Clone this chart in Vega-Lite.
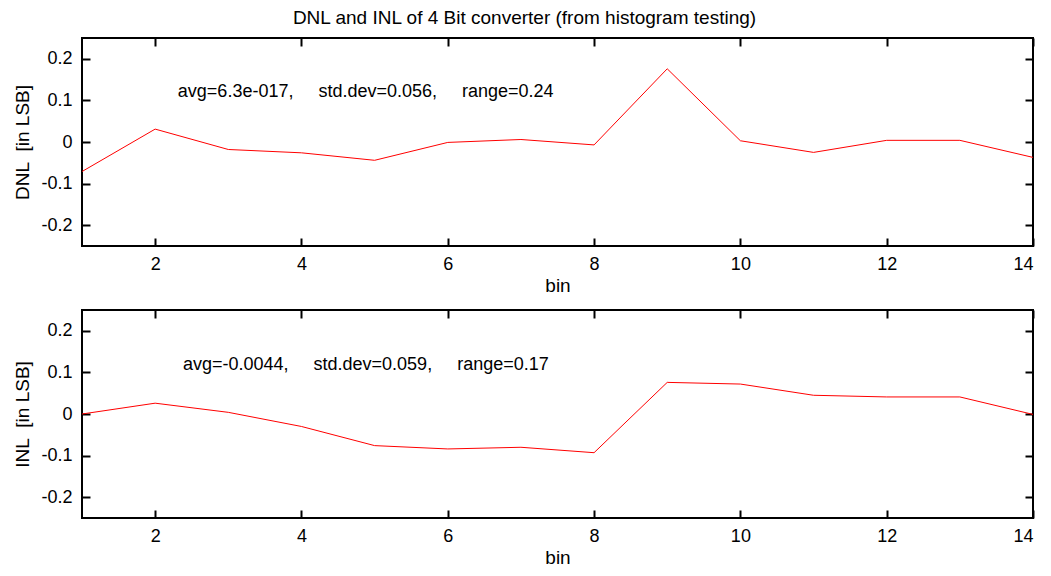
{
  "$schema": "https://vega.github.io/schema/vega-lite/v6.json",
  "background": "white",
  "padding": {"left": 12, "top": 9, "right": 6, "bottom": 4},
  "title": {
    "text": "DNL and INL of 4 Bit converter (from histogram testing)",
    "anchor": "middle",
    "fontSize": 19,
    "fontWeight": "normal",
    "font": "Liberation Sans",
    "color": "black",
    "offset": 8
  },
  "datasets": {
    "conv": [
      {"bin": 1, "dnl": -0.071, "inl": 0.0},
      {"bin": 2, "dnl": 0.031, "inl": 0.026},
      {"bin": 3, "dnl": -0.018, "inl": 0.004},
      {"bin": 4, "dnl": -0.026, "inl": -0.030},
      {"bin": 5, "dnl": -0.044, "inl": -0.076},
      {"bin": 6, "dnl": -0.001, "inl": -0.084},
      {"bin": 7, "dnl": 0.006, "inl": -0.080},
      {"bin": 8, "dnl": -0.007, "inl": -0.093},
      {"bin": 9, "dnl": 0.176, "inl": 0.076},
      {"bin": 10, "dnl": 0.003, "inl": 0.072},
      {"bin": 11, "dnl": -0.025, "inl": 0.045},
      {"bin": 12, "dnl": 0.004, "inl": 0.041},
      {"bin": 13, "dnl": 0.004, "inl": 0.041},
      {"bin": 14, "dnl": -0.037, "inl": -0.001}
    ],
    "dnlStats": [{"label": "avg=6.3e-017,\u00a0\u00a0\u00a0\u00a0\u00a0std.dev=0.056,\u00a0\u00a0\u00a0\u00a0\u00a0range=0.24"}],
    "inlStats": [{"label": "avg=-0.0044,\u00a0\u00a0\u00a0\u00a0\u00a0std.dev=0.059,\u00a0\u00a0\u00a0\u00a0\u00a0range=0.17"}]
  },
  "spacing": 12,
  "vconcat": [
    {
      "width": 951,
      "height": 208,
      "layer": [
        {
          "data": {"name": "conv"},
          "mark": {"type": "line", "color": "red", "strokeWidth": 1},
          "encoding": {
            "x": {
              "field": "bin", "type": "quantitative",
              "scale": {"domain": [1, 14], "nice": false, "zero": false},
              "axis": {"orient": "bottom", "values": [2, 4, 6, 8, 10, 12, 14], "title": "bin"}
            },
            "y": {
              "field": "dnl", "type": "quantitative",
              "scale": {"domain": [-0.25, 0.25], "nice": false},
              "axis": {"orient": "left", "values": [-0.2, -0.1, 0, 0.1, 0.2], "title": "DNL\u00a0\u00a0[in LSB]", "labelExpr": "replace(format(datum.value, '~g'), '\u2212', '-')"}
            }
          }
        },
        {
          "data": {"name": "conv"},
          "mark": {"type": "line", "strokeOpacity": 0},
          "encoding": {
            "x": {
              "field": "bin", "type": "quantitative",
              "axis": {"orient": "top", "values": [2, 4, 6, 8, 10, 12, 14], "labels": false, "title": null}
            },
            "y": {
              "field": "dnl", "type": "quantitative",
              "axis": {"orient": "right", "values": [-0.2, -0.1, 0, 0.1, 0.2], "labels": false, "title": null}
            }
          }
        },
        {
          "data": {"name": "dnlStats"},
          "mark": {"type": "text", "align": "left", "baseline": "middle", "font": "Liberation Sans", "fontSize": 18, "color": "black"},
          "encoding": {
            "x": {"datum": 2.31, "type": "quantitative", "axis": null},
            "y": {"datum": 0.12, "type": "quantitative", "axis": null},
            "text": {"field": "label"}
          }
        }
      ],
      "resolve": {"axis": {"x": "independent", "y": "independent"}}
    },
    {
      "width": 951,
      "height": 208,
      "layer": [
        {
          "data": {"name": "conv"},
          "mark": {"type": "line", "color": "red", "strokeWidth": 1},
          "encoding": {
            "x": {
              "field": "bin", "type": "quantitative",
              "scale": {"domain": [1, 14], "nice": false, "zero": false},
              "axis": {"orient": "bottom", "values": [2, 4, 6, 8, 10, 12, 14], "title": "bin"}
            },
            "y": {
              "field": "inl", "type": "quantitative",
              "scale": {"domain": [-0.25, 0.25], "nice": false},
              "axis": {"orient": "left", "values": [-0.2, -0.1, 0, 0.1, 0.2], "title": "INL\u00a0\u00a0[in LSB]", "labelExpr": "replace(format(datum.value, '~g'), '\u2212', '-')"}
            }
          }
        },
        {
          "data": {"name": "conv"},
          "mark": {"type": "line", "strokeOpacity": 0},
          "encoding": {
            "x": {
              "field": "bin", "type": "quantitative",
              "axis": {"orient": "top", "values": [2, 4, 6, 8, 10, 12, 14], "labels": false, "title": null}
            },
            "y": {
              "field": "inl", "type": "quantitative",
              "axis": {"orient": "right", "values": [-0.2, -0.1, 0, 0.1, 0.2], "labels": false, "title": null}
            }
          }
        },
        {
          "data": {"name": "inlStats"},
          "mark": {"type": "text", "align": "left", "baseline": "middle", "font": "Liberation Sans", "fontSize": 18, "color": "black"},
          "encoding": {
            "x": {"datum": 2.38, "type": "quantitative", "axis": null},
            "y": {"datum": 0.118, "type": "quantitative", "axis": null},
            "text": {"field": "label"}
          }
        }
      ],
      "resolve": {"axis": {"x": "independent", "y": "independent"}}
    }
  ],
  "config": {
    "view": {"stroke": "black", "strokeWidth": 2},
    "axis": {
      "domain": false,
      "grid": false,
      "ticks": true,
      "tickColor": "black",
      "tickWidth": 2,
      "tickSize": -8,
      "labelPadding": 18,
      "labelFont": "Liberation Sans",
      "labelFontSize": 18,
      "labelColor": "black",
      "titleFont": "Liberation Sans",
      "titleFontSize": 19,
      "titleFontWeight": "normal",
      "titleColor": "black"
    },
    "axisX": {"labelPadding": 17, "titlePadding": 3},
    "axisY": {"titlePadding": 8}
  }
}
